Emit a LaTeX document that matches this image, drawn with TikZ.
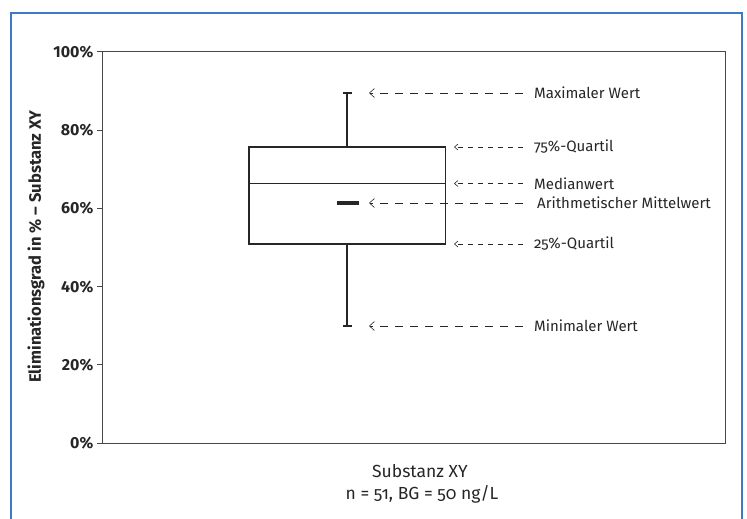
\documentclass[tikz,border=0pt]{standalone}
\usepackage{fontspec}
\setmainfont{Fira Sans}[Numbers=OldStyle]
\newfontfamily\tickfont{Fira Sans}[Numbers=Lining]
\usetikzlibrary{arrows.meta}
\definecolor{frameblue}{HTML}{3D7CC4}
\definecolor{ink}{HTML}{262626}
\begin{document}
\begin{tikzpicture}[x=1pt,y=-1pt,
  axisline/.style={draw=ink!85, line width=1pt},
  boxline/.style={draw=ink, line width=1.4pt},
  ticklabel/.style={anchor=east, font=\tickfont\bfseries\fontsize{16}{18}\selectfont, text=ink, inner sep=0pt},
  lbl/.style={anchor=west, font=\fontsize{15}{17}\selectfont, text=ink, inner sep=0pt},
  xlbl/.style={font=\fontsize{17.5}{19}\selectfont, text=ink, inner sep=0pt},
  longarrow/.style={draw=ink, line width=0.6pt, dash pattern=on 8pt off 7pt, -{Straight Barb[length=5pt,width=9pt]}},
  shortarrow/.style={draw=ink, line width=0.6pt, dash pattern=on 5pt off 5pt, -{Straight Barb[length=3.5pt,width=6pt]}},
]
\useasboundingbox (0,0) rectangle (747,519);
% outer blue frame
\draw[frameblue, line width=1.3pt] (11,519) |- (742,13) -- (742,519);
% plot frame
\coordinate (pTL) at (102,52);
\coordinate (pBR) at (725,443);
\draw[axisline] (pTL) rectangle (pBR);
% ticks and labels
\foreach \v/\yy in {0/443,20/364.8,40/286.6,60/208.4,80/130.2,100/52}{
  \draw[axisline] (97,\yy) -- (102,\yy);
  \node[ticklabel] (t\v) at (93.5,\yy) {\v\%};
}
% y-axis title
\node[rotate=90, font=\tickfont\bfseries\fontsize{16.5}{18}\selectfont, text=ink, inner sep=0pt] (ytitle) at (36,246.5) {Eliminationsgrad in \% – Substanz XY};
% box plot
\coordinate (wmax) at (347,93);
\coordinate (wmin) at (347,326);
\coordinate (bTL) at (249,147);
\coordinate (bBR) at (445.5,244);
\draw[boxline] (bTL) rectangle (bBR);
\draw[boxline] (249,183.5) -- (445.5,183.5);
\draw[boxline] (wmax) -- (347,147);
\draw[boxline] (wmin) -- (347,244);
\draw[boxline] (342.5,93) -- (351.5,93);
\draw[boxline] (342.5,326) -- (351.5,326);
\draw[draw=ink, line width=3.8pt] (337,203) -- (358.5,203);
% labels
\node[lbl] (lmax) at (534,93) {Maximaler Wert};
\node[lbl] (l75) at (534,147) {75\%-Quartil};
\node[lbl] (lmed) at (534,183.5) {Medianwert};
\node[lbl] (lmean) at (537,203) {Arithmetischer Mittelwert};
\node[lbl] (l25) at (534,244) {25\%-Quartil};
\node[lbl] (lmin) at (534,326) {Minimaler Wert};
% arrows
\coordinate (amax) at (369,93);
\coordinate (a75) at (454,147);
\coordinate (amed) at (454,183.5);
\coordinate (amean) at (369,203);
\coordinate (a25) at (454,244);
\coordinate (amin) at (369,326);
\draw[longarrow] (523,93) -- (amax);
\draw[shortarrow] (523,147) -- (a75);
\draw[shortarrow] (523,183.5) -- (amed);
\draw[longarrow] (523,203) -- (amean);
\draw[shortarrow] (523,244) -- (a25);
\draw[longarrow] (523,326) -- (amin);
% x labels
\node[xlbl] (x1) at (420,471) {Substanz XY};
\node[xlbl] (x2) at (422,494) {n = 51, BG = 50 ng/L};
\end{tikzpicture}
\end{document}
